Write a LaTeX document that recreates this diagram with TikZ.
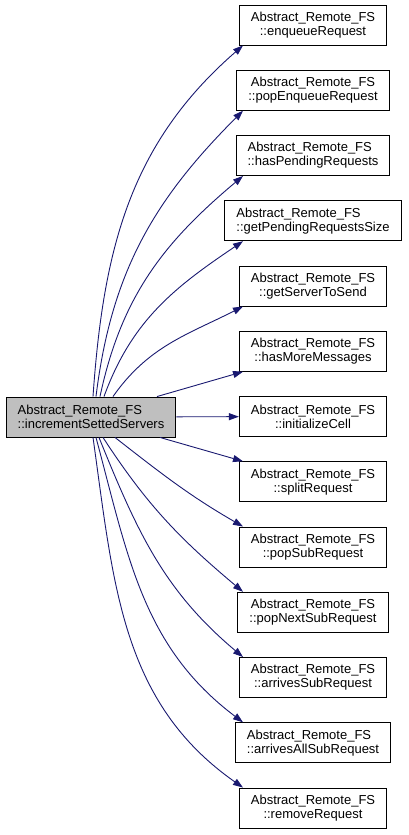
\documentclass[tikz,border=0pt]{standalone}
\usepackage{fontspec}
\setmainfont{Liberation Sans}
\usepackage{tikz}
\usetikzlibrary{
  arrows.meta,
  positioning,
  calc
}
\definecolor{azulseta}{HTML}{191970}
\definecolor{cinza}{HTML}{BFBFBF}

\begin{document}
\begin{tikzpicture}[
    x=1pt, y=-1pt,
    membro/.style={
    draw,
    line width=0.9pt,
    minimum height=40pt,
    inner xsep=11.5pt,
    align=center,
    font=\fontsize{13}{14}\selectfont
    },
    raiz/.style={membro, fill=cinza, align=left},
    seta/.style={-{Triangle[length=10pt,width=7pt]},color=azulseta,line width=0.9pt}
    ]
    \useasboundingbox (0,0) rectangle (408,835);
    
    \node[raiz] (inc) at (91,417)
    {Abstract\_Remote\_FS\\::incrementSettedServers};
    
    \node[membro] (enq) at (313,25)
    {Abstract\_Remote\_FS\\::enqueueRequest};
    \node[membro] (popenq) at (313,90.25)
    {Abstract\_Remote\_FS\\::popEnqueueRequest};
    \node[membro, align=left] (haspend) at (313,155.5)
    {Abstract\_Remote\_FS\\::hasPendingRequests};
    \node[membro, align=left] (getpend) at (313,220.75)
    {Abstract\_Remote\_FS\\::getPendingRequestsSize};
    \node[membro] (getserv) at (313,286)
    {Abstract\_Remote\_FS\\::getServerToSend};
    \node[membro] (hasmore) at (313,351.25)
    {Abstract\_Remote\_FS\\::hasMoreMessages};
    \node[membro] (initcell) at (313,416.5)
    {Abstract\_Remote\_FS\\::initializeCell};
    \node[membro] (split) at (313,481.75)
    {Abstract\_Remote\_FS\\::splitRequest};
    \node[membro] (popsub) at (313,547)
    {Abstract\_Remote\_FS\\::popSubRequest};
    \node[membro] (popnext) at (313,612.25)
    {Abstract\_Remote\_FS\\::popNextSubRequest};
    \node[membro] (arrsub) at (313,677.5)
    {Abstract\_Remote\_FS\\::arrivesSubRequest};
    \node[membro, align=left] (arrall) at (313,742.75)
    {Abstract\_Remote\_FS\\::arrivesAllSubRequest};
    \node[membro] (remove) at (313,808)
    {Abstract\_Remote\_FS\\::removeRequest};
    
    % ponta das setas
    \coordinate (ponta) at (243,0);
    
    \draw[seta] ([xshift=2pt]inc.north) to[out=86,in=221] (enq.south -| ponta);
    \draw[seta] ([xshift=5pt]inc.north) to[out=83,in=225] (popenq.south -| ponta);
    \draw[seta] ([xshift=9pt]inc.north) to[out=78,in=220] (haspend.south -| ponta);
    \draw[seta] ([xshift=13pt]inc.north) to[out=70,in=214] (getpend.south -| ponta);
    \draw[seta] ([xshift=22pt]inc.north) to[out=55,in=207] (getserv.south -| ponta);
    \draw[seta] ([xshift=66pt]inc.north) -- (hasmore.south -| ponta);
    \draw[seta] (inc) -- (initcell);
    \draw[seta] ([xshift=69pt]inc.south) -- (split.north -| ponta);
    \draw[seta] ([xshift=24pt]inc.south) to[out=-38,in=150] (popsub.north -| ponta);
    \draw[seta] ([xshift=12pt]inc.south) to[out=-57,in=140] (popnext.north -| ponta);
    \draw[seta] ([xshift=8pt]inc.south) to[out=-68,in=140] (arrsub.north -| ponta);
    \draw[seta] ([xshift=5pt]inc.south) to[out=-75,in=143] (arrall.north -| ponta);
    \draw[seta] ([xshift=2pt]inc.south) to[out=-82,in=145] (remove.north -| ponta);
    
\end{tikzpicture}
\end{document}
